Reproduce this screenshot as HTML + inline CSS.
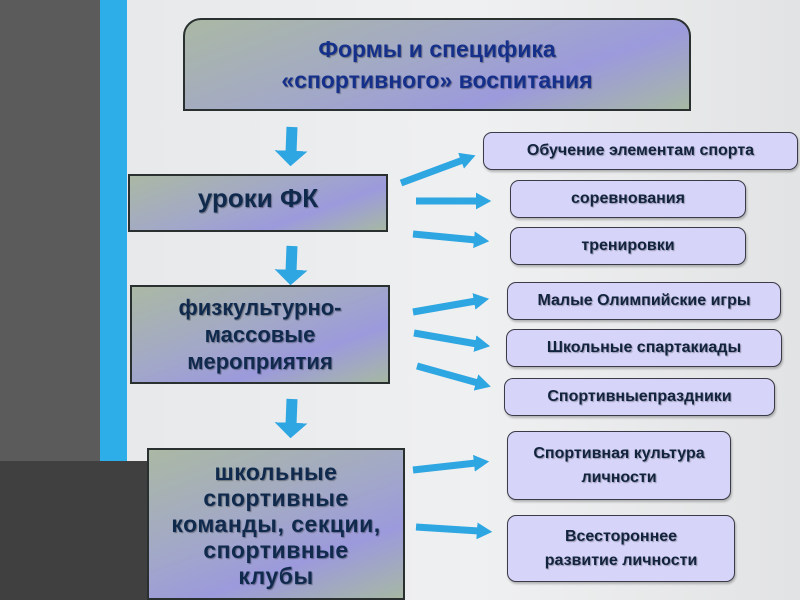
<!DOCTYPE html>
<html><head><meta charset="utf-8"><style>
body{margin:0;width:800px;height:600px;overflow:hidden;position:relative;background:linear-gradient(90deg,#e4e6e8,#eff0f1 60%,#e2e3e4);font-family:"Liberation Sans",sans-serif;font-weight:bold}
.a{position:absolute}
.bx{position:absolute;box-sizing:border-box;border:2px solid #2a3030;display:flex;align-items:center;justify-content:center;text-align:center;color:#102a4e;text-shadow:1px 1px 1px rgba(0,0,0,.35);background:linear-gradient(160deg,#aab8a4 0%,#a2a8c8 45%,#9c9adc 70%,#a6b8a4 100%)}
.r{position:absolute;box-sizing:border-box;border:1.5px solid #3a3a48;border-radius:9px;background:#d6d4f8;display:flex;align-items:center;justify-content:center;text-align:center;color:#12233e;font-size:16px;line-height:24px;text-shadow:1px 1px 1px rgba(0,0,0,.3);box-shadow:1px 2px 2px rgba(0,0,0,.25)}
</style></head><body>
<div class="a" style="left:0;top:0;width:100px;height:600px;background:#5b5b5b"></div>
<div class="a" style="left:100px;top:0;width:27px;height:461px;background:#2eaee8"></div>
<div class="a" style="left:0;top:461px;width:147px;height:139px;background:#404040"></div>

<div class="bx" style="left:183px;top:18px;width:508px;height:93px;border-radius:18px 18px 0 0;color:#15308a;font-size:23px;line-height:31px">Формы и специфика<br>«спортивного» воспитания</div>
<div class="bx" style="left:128px;top:174px;width:260px;height:58px;font-size:26px;padding-bottom:10px">уроки ФК</div>
<div class="bx" style="left:130px;top:285px;width:260px;height:99px;font-size:22px;line-height:27px">физкультурно-<br>массовые<br>мероприятия</div>
<div class="bx" style="left:147px;top:448px;width:258px;height:152px;font-size:23px;line-height:26px;letter-spacing:0.5px">школьные<br>спортивные<br>команды, секции,<br>спортивные<br>клубы</div>

<div class="r" style="left:483px;top:132px;width:315px;height:38px">Обучение элементам спорта</div>
<div class="r" style="left:510px;top:180px;width:236px;height:38px">соревнования</div>
<div class="r" style="left:510px;top:227px;width:236px;height:38px">тренировки</div>
<div class="r" style="left:507px;top:282px;width:274px;height:38px">Малые Олимпийские игры</div>
<div class="r" style="left:506px;top:329px;width:276px;height:38px">Школьные спартакиады</div>
<div class="r" style="left:504px;top:378px;width:271px;height:38px">Спортивныепраздники</div>
<div class="r" style="left:507px;top:431px;width:224px;height:69px">Спортивная культура<br>личности</div>
<div class="r" style="left:507px;top:515px;width:228px;height:67px">Всестороннее<br>развитие личности</div>

<svg class="a" style="left:0;top:0" width="800" height="600">
<defs>
<marker id="h" markerWidth="2.2" markerHeight="2.4" refX="0.3" refY="1.2" orient="auto" markerUnits="strokeWidth"><path d="M0,0 L2.2,1.2 L0,2.4z" fill="#2ea6e2"/></marker>
<marker id="d" markerWidth="1.4" markerHeight="3" refX="0.2" refY="1.5" orient="auto" markerUnits="strokeWidth"><path d="M0,0 L1.4,1.5 L0,3z" fill="#2ea6e2"/></marker>
</defs>
<g stroke="#2ea6e2" stroke-width="11" fill="none" marker-end="url(#d)">
<line x1="292" y1="127" x2="291" y2="153"/>
<line x1="292" y1="246" x2="291" y2="272"/>
<line x1="292" y1="399" x2="291" y2="425"/>
</g>
<g stroke="#2ea6e2" stroke-width="7" fill="none" marker-end="url(#h)">
<line x1="401" y1="183" x2="463" y2="160"/>
<line x1="416" y1="201" x2="478" y2="201"/>
<line x1="413" y1="234" x2="476" y2="240"/>
<line x1="413" y1="312" x2="476" y2="301"/>
<line x1="414" y1="333" x2="477" y2="344"/>
<line x1="417" y1="366" x2="478" y2="383"/>
<line x1="413" y1="470" x2="476" y2="463"/>
<line x1="416" y1="527" x2="479" y2="531"/>
</g></svg>
</body></html>
